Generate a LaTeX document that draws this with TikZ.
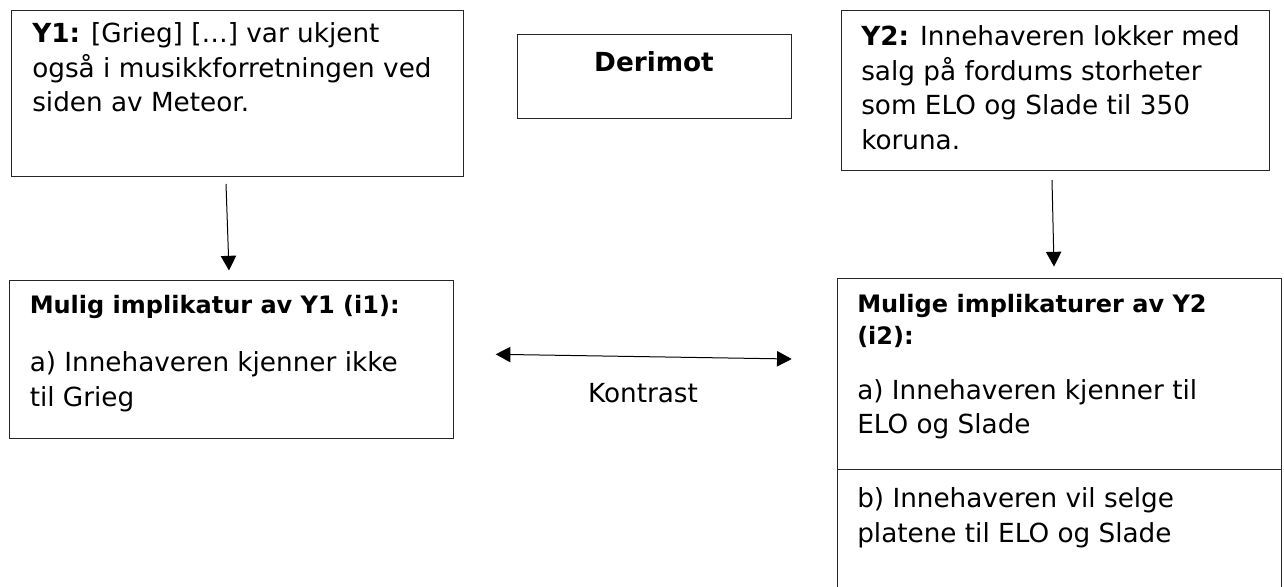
\documentclass[tikz,border=0pt]{standalone}
\usepackage{fontspec}
\setmainfont{DejaVu Sans}
\usetikzlibrary{arrows.meta}

% left-aligned stack of lines; the node's base is the first line's baseline
\newcommand{\stacklines}[2]{\vtop{\baselineskip=#1\lineskiplimit=-20pt\halign{##\hfil\cr#2\crcr}}}

\begin{document}
\begin{tikzpicture}[x=0.75pt,y=-0.75pt,
  frame/.style={draw=black!85, line width=0.9pt, inner sep=0pt, anchor=north west},
  body/.style={font=\fontsize{19.7}{26}\selectfont, inner sep=0pt, anchor=base west},
  head/.style={font=\fontsize{18}{23.5}\selectfont\bfseries, inner sep=0pt, anchor=base west},
  link/.style={-{Triangle[width=11.5pt,length=11pt]}, line width=0.75pt},
  twoway/.style={{Triangle[width=11.5pt,length=11pt]}-{Triangle[width=11.5pt,length=11pt]}, line width=0.75pt},
]
\useasboundingbox (0,0) rectangle (1284,586);

% statement Y1
\node[frame, minimum width=0.75pt*452, minimum height=0.75pt*166] (y1) at (11,10) {};
\node[body] (y1t) at (32,42.5) {\stacklines{26pt}{\textbf{Y1:} [Grieg] […] var ukjent\cr også i musikkforretningen ved\cr siden av Meteor.}};

% connective
\node[frame, minimum width=0.75pt*274, minimum height=0.75pt*84] (dm) at (517,34) {};
\node[font=\fontsize{19.7}{24}\selectfont\bfseries, inner sep=0pt, anchor=base] (dmt) at (654,71.7) {Derimot};

% statement Y2
\node[frame, minimum width=0.75pt*428, minimum height=0.75pt*160] (y2) at (841,10) {};
\node[body] (y2t) at (861,45.5) {\stacklines{26pt}{\textbf{Y2:} Innehaveren lokker med\cr salg på fordums storheter\cr som ELO og Slade til 350\cr koruna.}};

% implicature of Y1
\node[frame, minimum width=0.75pt*444, minimum height=0.75pt*158] (i1) at (9,280) {};
\node[head] (i1h) at (29.5,313) {Mulig implikatur av Y1 (i1):};
\node[body] (i1a) at (29.5,371.5) {\stacklines{26pt}{a) Innehaveren kjenner ikke\cr til Grieg}};

% implicatures of Y2
\node[frame, minimum width=0.75pt*444.5, minimum height=0.75pt*191] (i2) at (836.5,278) {};
\node[frame, minimum width=0.75pt*444.5, minimum height=0.75pt*140] (i2b) at (836.5,469) {};
\node[head] (i2h) at (857,312.7) {\stacklines{23.5pt}{Mulige implikaturer av Y2\cr (i2):}};
\node[body] (i2a) at (857,399.3) {\stacklines{26pt}{a) Innehaveren kjenner til\cr ELO og Slade}};
\node[body] (i2bt) at (857,507.7) {\stacklines{26pt}{b) Innehaveren vil selge\cr platene til ELO og Slade}};

% connectors
\coordinate (a1s) at (226,184);
\coordinate (a1e) at (229,270.5);
\coordinate (a2s) at (1052,180);
\coordinate (a2e) at (1054,266.5);
\coordinate (kl) at (495.7,354.3);
\coordinate (kr) at (791.7,359);
\draw[link] (a1s) -- (a1e);
\draw[link] (a2s) -- (a2e);
\draw[twoway] (kl) -- (kr);
\node[font=\fontsize{19.7}{24}\selectfont, inner sep=0pt, anchor=base] (kt) at (643,402.7) {Kontrast};
\end{tikzpicture}
\end{document}
